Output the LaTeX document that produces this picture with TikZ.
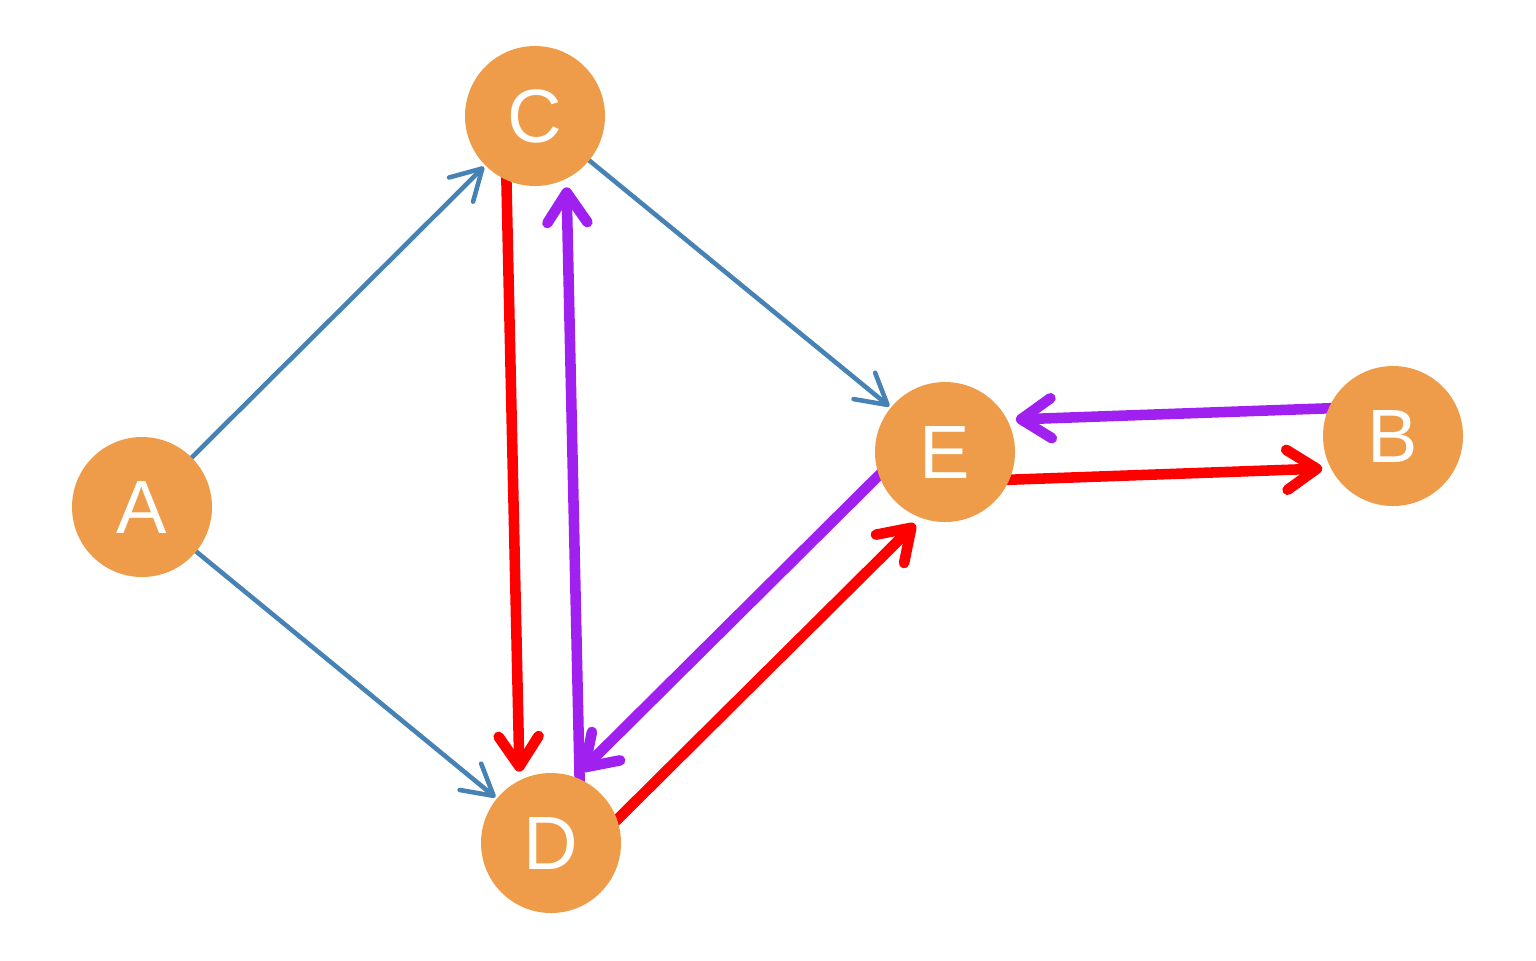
\documentclass[tikz,border=0pt]{standalone}
\usepackage{fontspec}
\setmainfont{Liberation Sans}
\usetikzlibrary{arrows.meta}
\usetikzlibrary{calc}
\usetikzlibrary{backgrounds}
\definecolor{nodeorange}{RGB}{239,156,74}
\definecolor{edgeblue}{RGB}{70,130,180}
\definecolor{edgepurple}{RGB}{160,32,240}

\begin{document}
\begin{tikzpicture}[
    vertex/.style={circle, fill=nodeorange, minimum size=1.4cm, inner sep=0pt,
      text=white, font=\fontsize{21.5}{24}\selectfont},
    thin edge/.style={draw=edgeblue, line width=1.3pt, shorten >=0.72cm,
      -{Straight Barb[length=0.3cm, width=0.34cm, round]}},
    thick edge/.style={line width=3pt, shorten >=0.72cm,
      -{Straight Barb[length=0.3cm, width=0.4cm, round]}}
  ]
  \useasboundingbox (0, 0) rectangle (15.36, -9.6);
  \node[vertex] (A) at (1.42, -5.07) {A};
  \node[vertex] (C) at (5.35, -1.16) {C};
  \node[vertex] (D) at (5.51, -8.43) {D};
  \node[vertex] (E) at (9.45, -4.52) {E};
  \node[vertex] (B) at (13.93, -4.36) {B};
  \begin{pgfonlayer}{background}
    \foreach \from/\to in {A/C, A/D, C/E}
      \draw[thin edge] (\from.center) -- (\to.center);
    % each edge of a pair is moved to its own right
    \foreach \from/\to/\col in {C/D/red, D/E/red, E/B/red,
        D/C/edgepurple, E/D/edgepurple, B/E/edgepurple}
      \draw[thick edge, draw=\col]
        ($(\from.center)!0.3cm!-90:(\to.center)$) -- ($(\to.center)!0.3cm!90:(\from.center)$);
  \end{pgfonlayer}
\end{tikzpicture}
\end{document}
